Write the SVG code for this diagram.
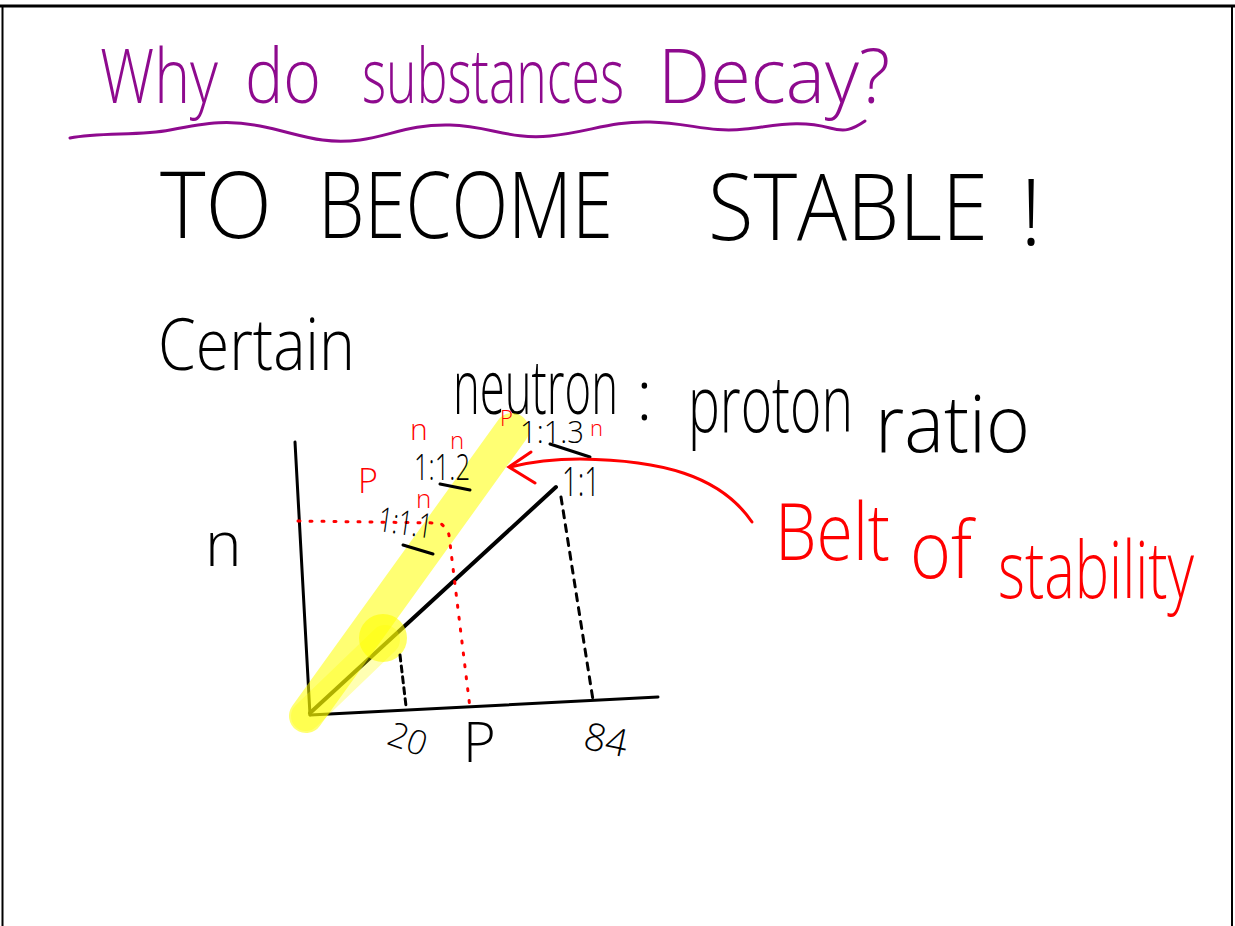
<svg xmlns="http://www.w3.org/2000/svg" width="1235" height="926" viewBox="0 0 1235 926">
<style>
.hw{font-family:"Open Sans","Liberation Sans",sans-serif;font-weight:300}
.blk{fill:#000}
.pur{fill:#8E0A8E}
.red{fill:#FF0000}
.ln{fill:none;stroke:#000;stroke-width:3;stroke-linecap:round}
.rln{fill:none;stroke:#FF0000;stroke-width:3;stroke-linecap:round}
</style>
<rect width="1235" height="926" fill="#fff"/>
<g id="frame" fill="none" stroke="#000">
<line x1="0" y1="6" x2="1235" y2="6" stroke-width="3"/>
<line x1="2.5" y1="6" x2="2.5" y2="926" stroke-width="2"/>
<line x1="1232" y1="6" x2="1232" y2="926" stroke-width="2"/>
</g>
<g id="title">
<text class="hw pur" x="100" y="103" font-size="76" textLength="118" lengthAdjust="spacingAndGlyphs">Why</text>
<text class="hw pur" x="245" y="103" font-size="76" textLength="76" lengthAdjust="spacingAndGlyphs">do</text>
<text class="hw pur" x="362" y="103" font-size="76" textLength="262" lengthAdjust="spacingAndGlyphs">substances</text>
<text class="hw pur" x="658" y="103" font-size="76" textLength="232" lengthAdjust="spacingAndGlyphs">Decay?</text>
<path d="M70,138 C100,132 140,136 170,130 C210,122 230,120 260,126 C300,134 320,145 360,140 C390,136 410,124 450,125 C490,126 510,140 550,136 C590,132 610,121 650,122 C690,123 710,133 745,129 C780,125 800,120 830,128 C845,132 852,130 865,121" fill="none" stroke="#8E0A8E" stroke-width="3" stroke-linecap="round"/>
</g>
<g id="heading">
<text class="hw blk" x="160" y="238" font-size="92" textLength="112" lengthAdjust="spacingAndGlyphs">TO</text>
<text class="hw blk" x="318" y="238" font-size="92" textLength="295" lengthAdjust="spacingAndGlyphs">BECOME</text>
<text class="hw blk" x="708" y="240" font-size="92" textLength="280" lengthAdjust="spacingAndGlyphs">STABLE</text>
<text class="hw blk" x="1020" y="245" font-size="92">!</text>
</g>
<g id="subtitle">
<text class="hw blk" x="158" y="370" font-size="72" textLength="197" lengthAdjust="spacingAndGlyphs">Certain</text>
<text class="hw blk" x="453" y="414" font-size="76" textLength="165" lengthAdjust="spacingAndGlyphs">neutron</text>
<text class="hw blk" x="636" y="420" font-size="70">:</text>
<text class="hw blk" x="688" y="432" font-size="80" textLength="165" lengthAdjust="spacingAndGlyphs">proton</text>
<text class="hw blk" x="875" y="452" font-size="80" textLength="155" lengthAdjust="spacingAndGlyphs">ratio</text>
</g>
<g id="graph">
<line class="ln" x1="295" y1="442" x2="310" y2="715"/>
<line class="ln" x1="310" y1="715" x2="658" y2="697"/>
<line x1="310" y1="713" x2="556" y2="487" stroke="#000" stroke-width="4" stroke-linecap="round"/>
<line x1="306" y1="716" x2="512" y2="430" stroke="#FFFF00" stroke-opacity="0.55" stroke-width="34" stroke-linecap="round"/>
<line x1="306" y1="716" x2="385" y2="640" stroke="#FFFF00" stroke-opacity="0.3" stroke-width="30" stroke-linecap="round"/>
<circle cx="383" cy="638" r="24" fill="#FFFF00" fill-opacity="0.6"/>
<line class="ln" x1="400" y1="655" x2="406" y2="706" stroke-dasharray="6 5" stroke-width="2.5"/>
<line class="ln" x1="561" y1="497" x2="593" y2="700" stroke-dasharray="7 7" stroke-width="2.5"/>
<path d="M298,521 L440,523 Q447,528 449,535 L470,708" fill="none" stroke="#FF0000" stroke-width="3" stroke-dasharray="2 10" stroke-linecap="round"/>
<text class="hw blk" x="205" y="566" font-size="62">n</text>
<text class="hw blk" x="388" y="750" font-size="34" transform="rotate(20 405 740)">20</text>
<text class="hw blk" x="463" y="762" font-size="56">P</text>
<text class="hw blk" x="583" y="752" font-size="38" transform="rotate(12 600 745)">84</text>
</g>
<g id="ratios">
<text class="hw blk" x="378" y="534" font-size="34" textLength="54" lengthAdjust="spacingAndGlyphs" transform="rotate(8 400 525)">1:1.1</text>
<line class="ln" x1="403" y1="545" x2="433" y2="554" stroke-width="2.5"/>
<text class="hw blk" x="414" y="480" font-size="36" textLength="56" lengthAdjust="spacingAndGlyphs">1:1.2</text>
<line class="ln" x1="440" y1="484" x2="470" y2="490" stroke-width="2.5"/>
<text class="hw blk" x="520" y="443" font-size="32" textLength="64" lengthAdjust="spacingAndGlyphs">1:1.3</text>
<line class="ln" x1="550" y1="444" x2="590" y2="457" stroke-width="2.5"/>
<text class="hw blk" x="562" y="496" font-size="40" textLength="38" lengthAdjust="spacingAndGlyphs">1:1</text>
<text class="hw red" x="410" y="440" font-size="30">n</text>
<text class="hw red" x="450" y="449" font-size="24">n</text>
<text class="hw red" x="358" y="493" font-size="34">P</text>
<text class="hw red" x="416" y="508" font-size="26">n</text>
<text class="hw red" x="500" y="426" font-size="22">P</text>
<text class="hw red" x="590" y="436" font-size="22">n</text>
</g>
<g id="connectors">
<path class="rln" d="M752,522 C720,475 660,460 580,459 C550,459 530,462 510,467"/>
<path class="rln" d="M531,452 L509,467 L535,483"/>
</g>
<g id="belt">
<text class="hw red" x="775" y="560" font-size="80" textLength="115" lengthAdjust="spacingAndGlyphs">Belt</text>
<text class="hw red" x="910" y="578" font-size="80" textLength="62" lengthAdjust="spacingAndGlyphs">of</text>
<text class="hw red" x="998" y="598" font-size="80" textLength="196" lengthAdjust="spacingAndGlyphs">stability</text>
</g>
</svg>
